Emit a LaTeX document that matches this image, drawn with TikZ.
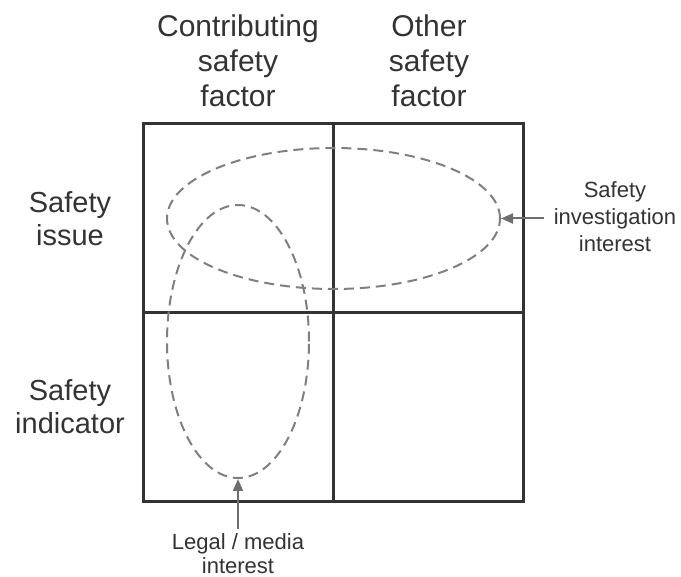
\documentclass[tikz,border=0pt]{standalone}
\usepackage{fontspec}
\setmainfont{Liberation Sans}
\usetikzlibrary{positioning, shapes.geometric, arrows.meta}
\definecolor{ink}{HTML}{333333}
\definecolor{dashgray}{HTML}{7F7F7F}
\definecolor{ptrgray}{HTML}{6E6E6E}

\begin{document}
\begin{tikzpicture}[x=1pt, y=-1pt, node distance=190pt, on grid,
  cell/.style={draw=ink, line width=3pt, minimum width=190pt, minimum height=189pt},
  interest/.style={ellipse, draw=dashgray, line width=2pt, dash pattern=on 10pt off 6pt, inner sep=0pt},
  head/.style={text=ink, align=center, inner sep=0pt, font=\fontsize{30}{35}\selectfont},
  note/.style={text=ink, align=center, font=\fontsize{22}{27}\selectfont},
  pointer/.style={-{Triangle[length=12pt,width=10pt]}, draw=ptrgray, line width=2pt}]
   \useasboundingbox (0,0) rectangle (681,577);

   % the four cells
   \node[cell] (c11) at (238.5,218.5) {};
   \node[cell] (c12) [right=of c11] {};
   \node[cell] (c21) [below=189pt of c11] {};
   \node[cell] (c22) [right=of c21] {};

   % column and row headings
   \node[head, anchor=north] (contrib) at (238,15) {Contributing\\safety\\factor};
   \node[head, anchor=north] (other) at (429,15) {Other\\safety\\factor};
   \node[head, anchor=north, font=\fontsize{29}{33}\selectfont] (issue) at (70,191) {Safety\\issue};
   \node[head, anchor=north, font=\fontsize{29}{33}\selectfont] (indic) at (70,379) {Safety\\indicator};

   % areas of interest
   \node[interest, minimum width=333pt, minimum height=141pt] (inv) at (333.5,218.5) {};
   \node[interest, minimum width=142pt, minimum height=273pt] (leg) at (238,341.5) {};

   \node[note, anchor=north, inner xsep=10pt, inner ysep=0pt] (invlbl) at (615,181) {Safety\\investigation\\interest};
   \node[note, anchor=north, inner xsep=0pt, inner ysep=4pt, font=\fontsize{22}{24}\selectfont] (leglbl) at (238,529) {Legal / media\\interest};

   \draw[pointer] (inv.east -| invlbl.west) -- (inv.east);
   \draw[pointer] (leglbl.north) -- (leg.south);
\end{tikzpicture}
\end{document}
